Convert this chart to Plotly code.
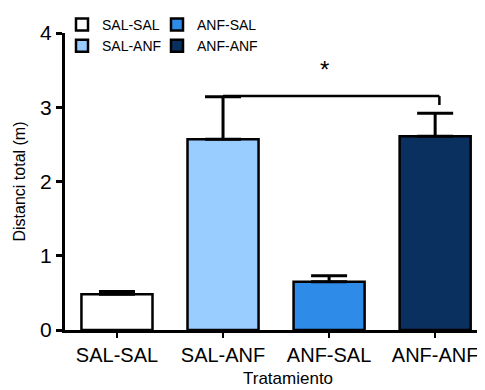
import plotly.graph_objects as go

categories = ["SAL-SAL", "SAL-ANF", "ANF-SAL", "ANF-ANF"]
means = [0.48, 2.57, 0.65, 2.61]
sems = [0.04, 0.57, 0.08, 0.31]
colors = ["#FFFFFF", "#99CCFF", "#2E8BE8", "#0A3060"]
legend_groups = ["legend", "legend", "legend2", "legend2"]

fig = go.Figure()
for i, cat in enumerate(categories):
    fig.add_trace(go.Bar(
        x=[cat], y=[means[i]], name=cat,
        marker=dict(color=colors[i], line=dict(color="black", width=2.5)),
        width=0.67,
        error_y=dict(type="data", array=[sems[i]], arrayminus=[0], symmetric=False,
                     color="black", thickness=3, width=18),
        legend=legend_groups[i],
    ))

# significance bracket
fig.add_shape(type="line", xref="x", yref="y", x0=1, x1=3.04, y0=3.15, y1=3.15,
              line=dict(color="black", width=2.5))
fig.add_shape(type="line", xref="x", yref="y", x0=3.04, x1=3.04, y0=3.15, y1=3.03,
              line=dict(color="black", width=2.5))
fig.add_annotation(x=1.96, y=3.51, xref="x", yref="y", text="*", showarrow=False,
                   font=dict(size=24, color="black"))

# x-axis title (centred as in the original, slightly right of the plot centre)
fig.add_annotation(x=(288 - 65) / 420, y=(330 - 378) / 297, xref="paper", yref="paper",
                   text="Tratamiento", showarrow=False, xanchor="center", yanchor="middle",
                   font=dict(size=17, color="black"))

legend_style = dict(font=dict(size=14, color="black", family="Liberation Sans, Arial"),
                    bgcolor="rgba(0,0,0,0)", tracegroupgap=0, itemwidth=30,
                    xanchor="left", yanchor="top")

fig.update_layout(
    width=477, height=382,
    margin=dict(l=57, r=0, t=25, b=60, autoexpand=False),
    paper_bgcolor="white", plot_bgcolor="white",
    font=dict(family="Liberation Sans, Arial, sans-serif", color="black"),
    showlegend=True,
    legend=dict(x=-3 / 420, y=1 + 24 / 297, **legend_style),
    legend2=dict(x=92 / 420, y=1 + 24 / 297, **legend_style),
    xaxis=dict(
        range=[-0.49, 3.47], showline=True, linecolor="black", linewidth=3,
        ticks="outside", ticklen=5, tickwidth=2, tickcolor="black", tickangle=0,
        tickfont=dict(size=20), showgrid=False, zeroline=False,
    ),
    yaxis=dict(
        range=[0, 4], tickvals=[0, 1, 2, 3, 4], showline=True, linecolor="black",
        linewidth=3, ticks="outside", ticklen=6, tickwidth=3, tickcolor="black",
        tickfont=dict(size=21), showgrid=False, zeroline=False,
        title=dict(text="Distanci total (m)", font=dict(size=16), standoff=11),
    ),
)

fig.write_html("out.html")
